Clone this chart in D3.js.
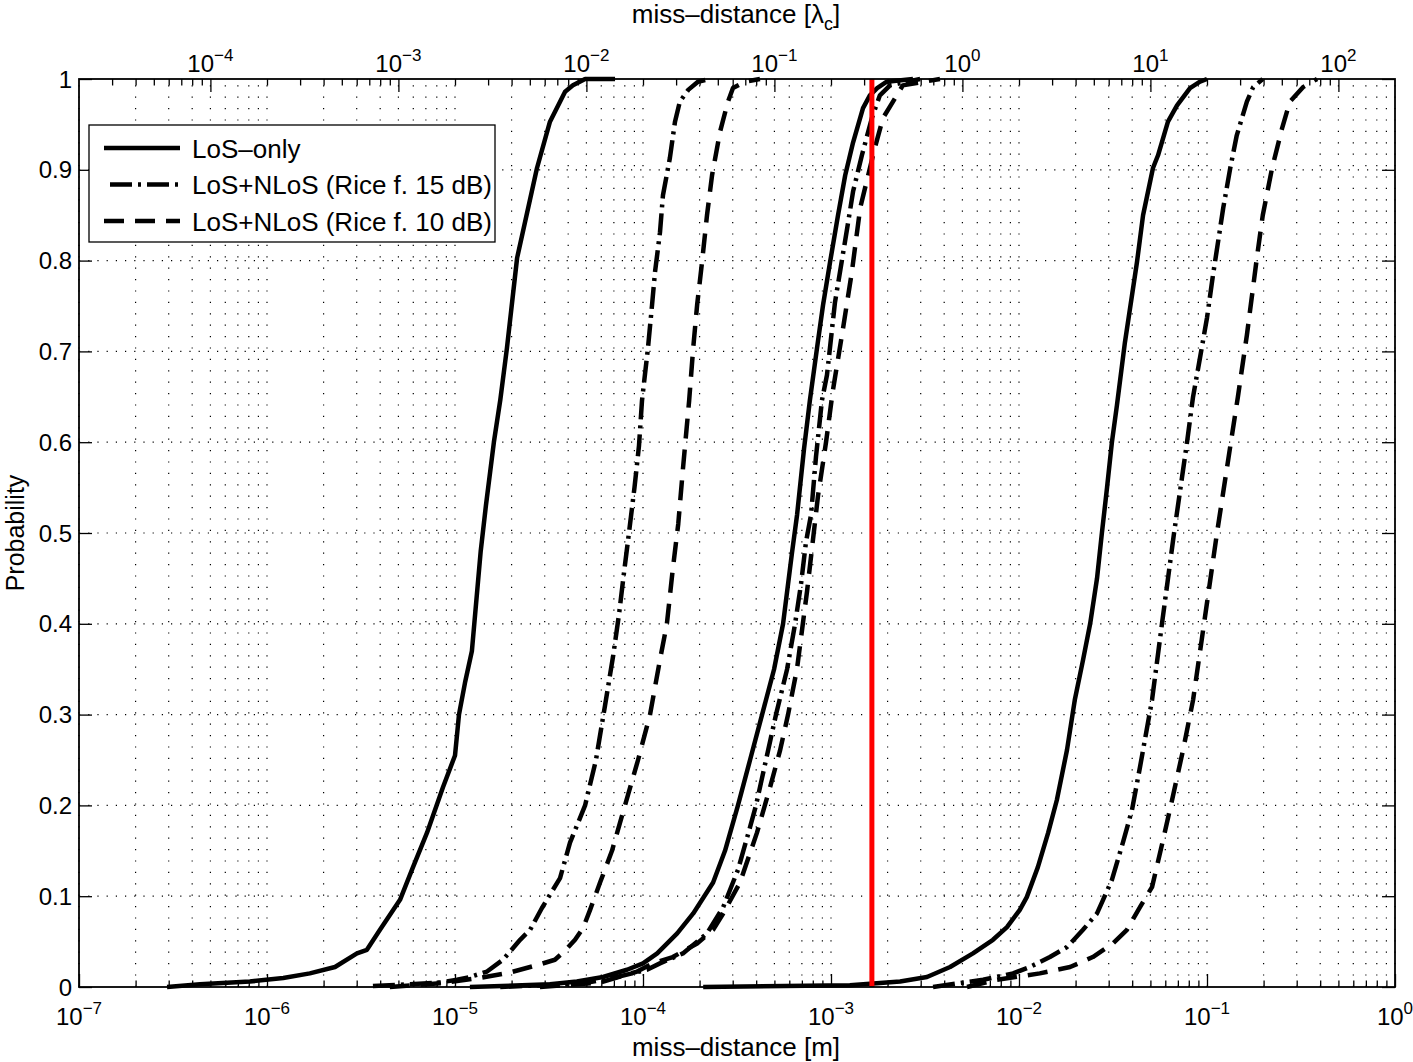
<!DOCTYPE html>
<html>
<head>
<meta charset="utf-8">
<script src="https://cdn.jsdelivr.net/npm/d3@7"></script>
<style>
  body { margin: 0; background: #fff; }
  text { font-family: "Liberation Sans", Arial, Helvetica, sans-serif; fill: #000; }
</style>
</head>
<body>
<svg></svg>
<script>
// carrier wavelength [m] (top axis is miss-distance / lambda_c)
var lambdaC = 5e-3;
// red threshold line [m]
var thresholdM = 1.65e-3;

var legendLabels = ['LoS\u2013only', 'LoS+NLoS (Rice f. 15 dB)', 'LoS+NLoS (Rice f. 10 dB)'];
var yTicks = [0, 0.1, 0.2, 0.3, 0.4, 0.5, 0.6, 0.7, 0.8, 0.9, 1];
var bottomDecades = [1e-7, 1e-6, 1e-5, 1e-4, 1e-3, 1e-2, 1e-1, 1e0];
var topDecades = [1e-4, 1e-3, 1e-2, 1e-1, 1e0, 1e1, 1e2];

// empirical CDFs: [miss-distance in m, probability]
// group A (smallest distances)
var losOnlyA = [[2.94e-7,0],[4.40e-7,0.003],[8.1e-7,0.006],[1.22e-6,0.010],[1.69e-6,0.015],[2.30e-6,0.022],
  [3.01e-6,0.037],[3.40e-6,0.041],[3.99e-6,0.063],[5.10e-6,0.096],[5.98e-6,0.132],[7.10e-6,0.170],
  [8.63e-6,0.220],[1.00e-5,0.255],[1.05e-5,0.300],[1.13e-5,0.335],[1.23e-5,0.370],[1.37e-5,0.480],
  [1.46e-5,0.530],[1.61e-5,0.600],[1.74e-5,0.646],[1.89e-5,0.704],[2.14e-5,0.803],[2.73e-5,0.902],
  [3.20e-5,0.953],[3.85e-5,0.986],[4.24e-5,0.993],[4.92e-5,1],[7.10e-5,1]];
var rice15A = [[3.66e-6,0.001],[5.76e-6,0.003],[8.32e-6,0.005],[1.025e-5,0.008],[1.20e-5,0.011],[1.48e-5,0.017],
  [1.80e-5,0.030],[2.22e-5,0.052],[2.51e-5,0.063],[2.90e-5,0.087],[3.62e-5,0.120],[4.09e-5,0.159],
  [4.92e-5,0.200],[5.62e-5,0.250],[6.28e-5,0.310],[6.93e-5,0.364],[7.46e-5,0.411],[7.93e-5,0.457],
  [8.43e-5,0.501],[9.01e-5,0.550],[9.52e-5,0.596],[9.88e-5,0.646],[1.063e-4,0.704],[1.117e-4,0.751],
  [1.158e-4,0.787],[1.231e-4,0.831],[1.277e-4,0.872],[1.39e-4,0.913],[1.48e-4,0.953],[1.57e-4,0.975],
  [1.74e-4,0.988],[1.96e-4,0.997],[2.27e-4,1]];
var rice10A = [[4.5e-6,0],[8.32e-6,0.004],[1.36e-5,0.010],[1.96e-5,0.016],[2.83e-5,0.025],[3.40e-5,0.030],
  [3.85e-5,0.040],[4.35e-5,0.052],[4.80e-5,0.065],[5.23e-5,0.085],[5.91e-5,0.115],[6.84e-5,0.150],
  [8.02e-5,0.200],[9.41e-5,0.250],[1.09e-4,0.300],[1.23e-4,0.360],[1.34e-4,0.400],[1.44e-4,0.460],
  [1.54e-4,0.510],[1.63e-4,0.570],[1.76e-4,0.646],[1.85e-4,0.704],[1.94e-4,0.751],[2.06e-4,0.798],
  [2.19e-4,0.850],[2.33e-4,0.894],[2.57e-4,0.942],[2.83e-4,0.975],[3.01e-4,0.990],[3.49e-4,0.997],[4.19e-4,1]];

// group B
var losOnlyB = [[1.20e-5,0],[3.20e-5,0.003],[4.45e-5,0.006],[6.13e-5,0.011],[8.22e-5,0.019],[1.00e-4,0.026],
  [1.19e-4,0.037],[1.52e-4,0.059],[1.85e-4,0.081],[2.36e-4,0.115],[2.73e-4,0.150],[3.20e-4,0.200],
  [3.71e-4,0.250],[4.30e-4,0.300],[4.98e-4,0.350],[5.56e-4,0.400],[6.20e-4,0.478],[6.60e-4,0.520],
  [7.19e-4,0.593],[7.72e-4,0.646],[8.43e-4,0.704],[9.07e-4,0.751],[9.88e-4,0.798],[1.09e-3,0.850],
  [1.19e-3,0.894],[1.31e-3,0.930],[1.48e-3,0.968],[1.61e-3,0.982],[1.76e-3,0.990],[1.98e-3,0.997],[2.73e-3,1]];
var rice15B = [[1.74e-5,0],[4.80e-5,0.004],[7.27e-5,0.011],[1.05e-4,0.019],[1.23e-4,0.026],[1.63e-4,0.037],
  [2.19e-4,0.059],[2.67e-4,0.088],[3.20e-4,0.129],[3.71e-4,0.176],[3.99e-4,0.200],[4.51e-4,0.250],
  [5.10e-4,0.300],[5.84e-4,0.350],[6.44e-4,0.400],[6.93e-4,0.444],[7.36e-4,0.490],[7.83e-4,0.520],
  [8.32e-4,0.584],[8.95e-4,0.646],[9.52e-4,0.674],[1.05e-3,0.754],[1.22e-3,0.836],[1.31e-3,0.876],
  [1.46e-3,0.916],[1.65e-3,0.957],[1.82e-3,0.982],[2.06e-3,0.993],[2.98e-3,1]];
var rice10B = [[2.83e-5,0],[5.91e-5,0.005],[9.30e-5,0.017],[1.13e-4,0.026],[1.44e-4,0.033],[1.94e-4,0.048],
  [2.36e-4,0.063],[2.67e-4,0.081],[3.28e-4,0.115],[4.04e-4,0.170],[4.74e-4,0.220],[5.35e-4,0.260],
  [5.91e-4,0.300],[6.60e-4,0.351],[7.46e-4,0.436],[8.53e-4,0.541],[9.41e-4,0.600],[1.02e-3,0.655],
  [1.16e-3,0.726],[1.29e-3,0.787],[1.43e-3,0.858],[1.71e-3,0.924],[1.89e-3,0.957],[2.24e-3,0.982],
  [2.41e-3,0.993],[3.80e-3,1]];

// group C (largest distances)
var losOnlyC = [[2.09e-4,0],[1.26e-3,0.002],[2.33e-3,0.006],[3.24e-3,0.011],[4.30e-3,0.022],[5.69e-3,0.037],
  [7.27e-3,0.052],[8.63e-3,0.066],[1.01e-2,0.085],[1.10e-2,0.099],[1.26e-2,0.132],[1.43e-2,0.170],
  [1.59e-2,0.206],[1.80e-2,0.261],[1.98e-2,0.316],[2.19e-2,0.360],[2.39e-2,0.400],[2.60e-2,0.450],
  [2.76e-2,0.500],[2.94e-2,0.550],[3.12e-2,0.600],[3.32e-2,0.641],[3.66e-2,0.710],[4.24e-2,0.798],
  [4.57e-2,0.850],[5.16e-2,0.902],[5.49e-2,0.916],[6.20e-2,0.953],[6.93e-2,0.971],[8.12e-2,0.990],
  [9.18e-2,0.997],[1.0e-1,1]];
var rice15C = [[3.49e-3,0],[6.44e-3,0.008],[9.30e-3,0.015],[1.14e-2,0.022],[1.46e-2,0.033],[1.80e-2,0.044],
  [2.19e-2,0.063],[2.60e-2,0.081],[2.80e-2,0.096],[3.12e-2,0.118],[3.57e-2,0.159],[3.99e-2,0.195],
  [4.40e-2,0.242],[5.10e-2,0.316],[5.76e-2,0.400],[6.68e-2,0.500],[7.83e-2,0.600],[8.43e-2,0.650],
  [9.18e-2,0.693],[1.00e-1,0.737],[1.076e-1,0.784],[1.22e-1,0.858],[1.33e-1,0.902],[1.44e-1,0.938],
  [1.63e-1,0.975],[1.76e-1,0.991],[1.98e-1,1]];
var rice10C = [[5.29e-3,0],[7.64e-3,0.008],[1.29e-2,0.015],[1.87e-2,0.022],[2.47e-2,0.033],[3.16e-2,0.048],
  [3.75e-2,0.063],[4.40e-2,0.088],[5.10e-2,0.110],[5.84e-2,0.162],[6.52e-2,0.206],[7.46e-2,0.261],
  [8.43e-2,0.316],[9.64e-2,0.400],[1.13e-1,0.500],[1.34e-1,0.600],[1.46e-1,0.650],[1.63e-1,0.718],
  [1.85e-1,0.806],[1.98e-1,0.850],[2.22e-1,0.902],[2.51e-1,0.946],[2.76e-1,0.975],[3.24e-1,0.991],[3.85e-1,1]];

var W = 1413, H = 1062;
var L = 79, R = 1395, T = 79, B = 987;

var svg = d3.select('svg').attr('width', W).attr('height', H);

var x = d3.scaleLog().domain([1e-7, 1]).range([L, R]);
var xTop = d3.scaleLog().domain([1e-7 / lambdaC, 1 / lambdaC]).range([L, R]);
var y = d3.scaleLinear().domain([0, 1]).range([B, T]);

function minorsOf(decades, lo, hi) {
  var out = [];
  decades.forEach(function (d) {
    for (var k = 2; k <= 9; k++) {
      var v = d * k;
      if (v > lo * 1.0001 && v < hi * 0.9999) out.push(v);
    }
  });
  return out;
}
var bottomMinor = minorsOf(bottomDecades, 1e-7, 1);
var topMinor = minorsOf([1e-5].concat(topDecades), 1e-7 / lambdaC, 1 / lambdaC);

// grid
var grid = svg.append('g');
grid.selectAll('line.vg').data(bottomDecades.concat(bottomMinor)).enter().append('line')
  .attr('x1', function (d) { return x(d); }).attr('x2', function (d) { return x(d); })
  .attr('y1', B).attr('y2', T)
  .attr('stroke', '#000').attr('stroke-width', 1.2).attr('stroke-dasharray', '1.2,10.2');
grid.selectAll('line.hg').data(yTicks.slice(1, -1)).enter().append('line')
  .attr('x1', L).attr('x2', R)
  .attr('y1', function (d) { return y(d); }).attr('y2', function (d) { return y(d); })
  .attr('stroke', '#000').attr('stroke-width', 1.2).attr('stroke-dasharray', '1.2,8');

// curves
var line = d3.line().x(function (d) { return x(d[0]); }).y(function (d) { return y(d[1]); });
var dashSolid = null, dashDot = '22,6,3,6', dashDash = '20,11';
var series = [
  { data: losOnlyA, dash: dashSolid }, { data: rice15A, dash: dashDot }, { data: rice10A, dash: dashDash },
  { data: losOnlyB, dash: dashSolid }, { data: rice15B, dash: dashDot }, { data: rice10B, dash: dashDash },
  { data: losOnlyC, dash: dashSolid }, { data: rice15C, dash: dashDot }, { data: rice10C, dash: dashDash }
];
svg.append('g').selectAll('path').data(series).enter().append('path')
  .attr('d', function (d) { return line(d.data); })
  .attr('fill', 'none').attr('stroke', '#000').attr('stroke-width', 4.5)
  .attr('stroke-linejoin', 'round')
  .attr('stroke-dasharray', function (d) { return d.dash; });

// red threshold
svg.append('line')
  .attr('x1', x(thresholdM)).attr('x2', x(thresholdM)).attr('y1', B).attr('y2', T)
  .attr('stroke', '#ff0000').attr('stroke-width', 5);

// axes ticks
function tickAxis(axis, values, size, ty) {
  var g = svg.append('g').attr('transform', 'translate(0,' + ty + ')')
    .call(axis.tickValues(values).tickSize(size).tickFormat(''));
  g.select('.domain').remove();
  g.selectAll('line').attr('stroke', '#000').attr('stroke-width', 1.3);
  return g;
}
tickAxis(d3.axisBottom(x), bottomDecades, -13, B);
tickAxis(d3.axisBottom(x), bottomMinor, -6.5, B);
tickAxis(d3.axisTop(xTop), topDecades, -13, T);
tickAxis(d3.axisTop(xTop), topMinor, -6.5, T);

var gy = svg.append('g').attr('transform', 'translate(' + L + ',0)')
  .call(d3.axisLeft(y).tickValues(yTicks).tickSize(-13).tickFormat(''));
gy.select('.domain').remove();
gy.selectAll('line').attr('stroke', '#000').attr('stroke-width', 1.3);
var gy2 = svg.append('g').attr('transform', 'translate(' + R + ',0)')
  .call(d3.axisRight(y).tickValues(yTicks).tickSize(-13).tickFormat(''));
gy2.select('.domain').remove();
gy2.selectAll('line').attr('stroke', '#000').attr('stroke-width', 1.3);

// box
svg.append('rect').attr('x', L).attr('y', T).attr('width', R - L).attr('height', B - T)
  .attr('fill', 'none').attr('stroke', '#000').attr('stroke-width', 1.8);

// tick labels
function powLabel(g, xpos, ypos, v) {
  var e = Math.round(Math.log10(v));
  var t = g.append('text').attr('x', xpos).attr('y', ypos).attr('text-anchor', 'middle')
    .attr('font-size', 24);
  t.append('tspan').text('10');
  t.append('tspan').attr('dy', -11).attr('font-size', 17).text(e < 0 ? '\u2212' + (-e) : String(e));
}
var lab = svg.append('g');
bottomDecades.forEach(function (d) { powLabel(lab, x(d), 1025, d); });
topDecades.forEach(function (d) { powLabel(lab, xTop(d), 72, d); });

lab.selectAll('text.yl').data(yTicks).enter().append('text')
  .attr('x', 72).attr('y', function (d) { return y(d) + 8.5; })
  .attr('text-anchor', 'end').attr('font-size', 24)
  .text(function (d) { return (d === 0 || d === 1) ? String(d) : d.toFixed(1); });

// axis titles
svg.append('text').attr('x', (L + R) / 2 - 1).attr('y', 1056).attr('text-anchor', 'middle')
  .attr('font-size', 26).text('miss\u2013distance [m]');
var tt = svg.append('text').attr('x', (L + R) / 2 - 1).attr('y', 23).attr('text-anchor', 'middle')
  .attr('font-size', 26);
tt.append('tspan').text('miss\u2013distance [\u03bb');
tt.append('tspan').attr('dy', 7).attr('font-size', 18).text('c');
tt.append('tspan').attr('dy', -7).text(']');
svg.append('text').attr('transform', 'translate(24,' + ((T + B) / 2) + ') rotate(-90)')
  .attr('text-anchor', 'middle').attr('font-size', 25).text('Probability');

// legend
var leg = svg.append('g');
leg.append('rect').attr('x', 89).attr('y', 125).attr('width', 406).attr('height', 117)
  .attr('fill', '#fff').attr('stroke', '#000').attr('stroke-width', 1.3);
var legDash = [dashSolid, dashDot, dashDash];
var legOffset = [0, 31, 0];
legendLabels.forEach(function (name, i) {
  var cy = 148 + i * 36.5;
  leg.append('line').attr('x1', 104).attr('x2', 180).attr('y1', cy).attr('y2', cy)
    .attr('stroke', '#000').attr('stroke-width', 4.5)
    .attr('stroke-dasharray', legDash[i]).attr('stroke-dashoffset', legOffset[i]);
  leg.append('text').attr('x', 192).attr('y', cy + 9.5).attr('font-size', 26).text(name);
});
</script>
</body>
</html>
